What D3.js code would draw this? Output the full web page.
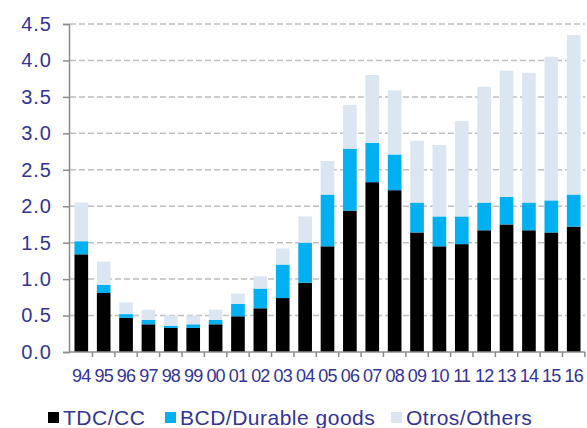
<!DOCTYPE html>
<html>
<head>
  <meta charset="utf-8">
  <title>Stacked bars</title>
  <style>
    body { margin: 0; background: #fff; }
    text { font-family: "Liberation Sans", Arial, sans-serif; fill: #333399; }
  </style>
</head>
<body>
  <div id="chart"></div>
  <script src="https://cdn.jsdelivr.net/npm/d3@7"></script>
  <script>
    // values
    var years = ["94","95","96","97","98","99","00","01","02","03","04","05","06","07","08","09","10","11","12","13","14","15","16"];
    var tdc = [1.34,0.81,0.47,0.38,0.33,0.33,0.38,0.49,0.60,0.74,0.95,1.45,1.94,2.33,2.22,1.64,1.45,1.48,1.67,1.75,1.67,1.64,1.72];
    var bcd = [0.18,0.11,0.05,0.06,0.03,0.05,0.06,0.17,0.27,0.46,0.55,0.71,0.85,0.54,0.49,0.41,0.41,0.38,0.38,0.38,0.38,0.44,0.44];
    var otros = [0.53,0.32,0.16,0.14,0.14,0.12,0.14,0.14,0.17,0.22,0.36,0.46,0.60,0.93,0.88,0.85,0.98,1.31,1.59,1.73,1.78,1.97,2.19];
    var yTicks = [0, 0.5, 1, 1.5, 2, 2.5, 3, 3.5, 4, 4.5];
    var seriesNames = ["TDC/CC", "BCD/Durable goods", "Otros/Others"];
    var colors = ["#000000", "#00B0F0", "#DCE6F2"];

    var width = 587, height = 428;
    var svg = d3.select("#chart").append("svg")
      .attr("width", width)
      .attr("height", height);

    var x = d3.scaleBand().domain(years).range([70, 585]).paddingInner(0.39).paddingOuter(0.2);
    var y = d3.scaleLinear().domain([0, 4.5]).range([352, 24]);

    var rows = years.map(function(d, i) {
      return {year: d, tdc: tdc[i], bcd: bcd[i], otros: otros[i]};
    });
    var stack = d3.stack().keys(["tdc", "bcd", "otros"]);
    var layers = stack(rows);

    // grid
    svg.append("g")
      .selectAll("line")
      .data(yTicks.filter(function(d) { return d > 0; }))
      .enter().append("line")
      .attr("x1", 70).attr("x2", 585)
      .attr("y1", function(d) { return y(d); })
      .attr("y2", function(d) { return y(d); })
      .attr("stroke", "#bfbfbf")
      .attr("stroke-width", 1.5)
      .attr("stroke-dasharray", "6,3");

    // bars
    svg.append("g")
      .selectAll("g")
      .data(layers)
      .enter().append("g")
      .attr("fill", function(d, i) { return colors[i]; })
      .selectAll("rect")
      .data(function(d) { return d; })
      .enter().append("rect")
      .attr("x", function(d) { return x(d.data.year); })
      .attr("width", x.bandwidth())
      .attr("y", function(d) { return y(d[1]); })
      .attr("height", function(d) { return y(d[0]) - y(d[1]); });

    // y axis
    var yAxis = svg.append("g")
      .attr("transform", "translate(69,0)")
      .call(d3.axisLeft(y).tickValues(yTicks).tickFormat(d3.format(".1f")).tickSize(6).tickPadding(11));
    yAxis.select(".domain").attr("stroke", "#8c8c8c").attr("stroke-width", 1.5);
    yAxis.selectAll(".tick line").attr("stroke", "#8c8c8c").attr("stroke-width", 1.5);
    yAxis.selectAll(".tick text")
      .attr("fill", "#333399")
      .style("font-size", "20px")
      .style("letter-spacing", "1px")
      .style("font-family", "Liberation Sans, Arial, sans-serif");

    // x axis
    var step = x.step();
    var xAxis = svg.append("g")
      .attr("transform", "translate(0,352)")
      .call(d3.axisBottom(x).tickSize(0).tickPadding(17));
    xAxis.select(".domain").attr("stroke", "#8c8c8c").attr("stroke-width", 1.5)
      .attr("d", "M69,0H585");
    xAxis.selectAll(".tick text")
      .attr("fill", "#333399")
      .style("font-size", "18px")
      .style("letter-spacing", "-0.8px")
      .style("font-family", "Liberation Sans, Arial, sans-serif");
    xAxis.append("g")
      .selectAll("line")
      .data(years)
      .enter().append("line")
      .attr("x1", function(d) { return x(d) + x.bandwidth() + (step - x.bandwidth()) / 2; })
      .attr("x2", function(d) { return x(d) + x.bandwidth() + (step - x.bandwidth()) / 2; })
      .attr("y1", 0).attr("y2", 5)
      .attr("stroke", "#8c8c8c")
      .attr("stroke-width", 1.5);

    // legend
    var legendX = [48, 165, 391];
    var legend = svg.append("g")
      .selectAll("g")
      .data(seriesNames)
      .enter().append("g")
      .attr("transform", function(d, i) { return "translate(" + legendX[i] + ",412)"; });
    legend.append("rect")
      .attr("width", 11).attr("height", 11)
      .attr("fill", function(d, i) { return colors[i]; });
    legend.append("text")
      .attr("x", 15)
      .attr("y", 12.5)
      .style("font-size", "21px")
      .style("letter-spacing", "0.5px")
      .text(function(d) { return d; });
  </script>
</body>
</html>
